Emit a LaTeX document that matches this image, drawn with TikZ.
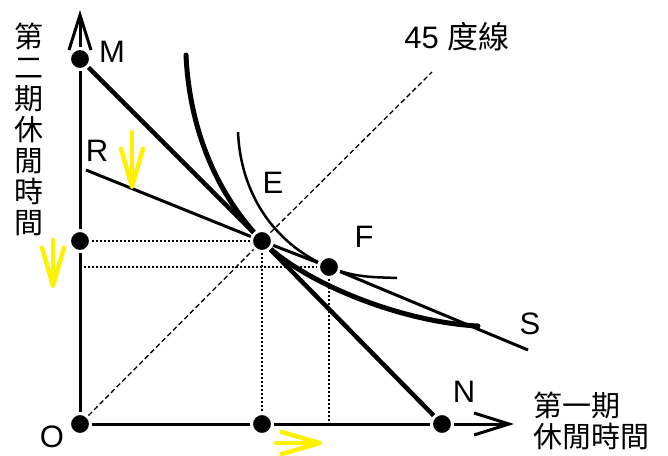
\documentclass[tikz,border=0pt]{standalone}
\usepackage{fontspec}
\setmainfont{Liberation Sans}
\newfontfamily\cjk{Noto Sans CJK TC}
\usetikzlibrary{arrows.meta,positioning}
\tikzset{
  dot/.style={circle, fill=black, draw=white, line width=3pt, inner sep=0pt, minimum size=21pt},
  lbl/.style={inner sep=0pt, font=\fontsize{31}{31}\selectfont},
  zh/.style={inner sep=0pt, font=\cjk\fontsize{29}{31}\selectfont},
  axisln/.style={line width=3pt},
  axarr/.style={line width=3pt, -{Straight Barb[length=35pt,width=22pt]}},
  budget/.style={line width=4.5pt},
  budget2/.style={line width=3pt},
  icurve/.style={line width=5pt, line cap=round},
  icurve2/.style={line width=2.5pt},
  guide/.style={line width=1.3pt, dash pattern=on 2pt off 2pt},
  deg/.style={line width=1.3pt, dash pattern=on 5pt off 3pt},
  shiftarr/.style={yellow, line width=4.5pt, line cap=round, -{Straight Barb[length=38pt,width=22pt,round]}}
}

\begin{document}
\begin{tikzpicture}[x=1pt,y=-1pt]
\useasboundingbox (0,0) rectangle (668,455);
% indifference curves
\draw[icurve] (186,55) .. controls (190,140) and (224,202) .. (262,241)
  .. controls (302,282) and (400,322) .. (478,326);
\draw[icurve2] (238,132) .. controls (241,200) and (280,247) .. (329,267)
  .. controls (355,278) and (375,277) .. (397,278);
% points
\node[dot] (M) at (80,59) {};
\node[dot] (A) at (80,241) {};
\node[dot] (O) at (80,424) {};
\node[dot] (E) at (262,241) {};
\node[dot] (F) at (329,267) {};
\node[dot] (B) at (262,424) {};
\node[dot] (N) at (442,424) {};
\coordinate (ytip) at (80,10);
\coordinate (xtip) at (514,424);
\coordinate (R) at (86,170);
\coordinate (S) at (528,350);
\coordinate (d45) at (432,72);
% axes
\draw[axisln] (O) -- (A);
\draw[axisln] (A) -- (M);
\draw[axarr] (M) -- (ytip);
\draw[axisln] (O) -- (B);
\draw[axisln] (B) -- (N);
\draw[axarr] (N) -- (xtip);
% budget lines
\draw[budget] (M) -- (E);
\draw[budget] (E) -- (N);
\draw[budget2] (R) -- (E);
\draw[budget2] (E) -- (F);
\draw[budget2] (F) -- (S);
% guides
\draw[deg] (O) -- (E);
\draw[deg] (E) -- (d45);
\draw[guide] (A) -- (E);
\draw[guide] (E) -- (B);
\draw[guide] (F -| O) -- (F);
\draw[guide] (F) -- (F |- O);
% shifts
\coordinate (s1a) at (132,132);
\coordinate (s1b) at (132,189);
\coordinate (s2a) at (53,240);
\coordinate (s2b) at (53,288);
\coordinate (s3a) at (276,443);
\coordinate (s3b) at (322,443);
\draw[shiftarr] (s1a) -- (s1b);
\draw[shiftarr] (s2a) -- (s2b);
\draw[shiftarr] (s3a) -- (s3b);
% labels
\node[lbl] (lM) at (112,52) {M};
\node[lbl] (lR) at (97,151) {R};
\node[lbl] (lE) at (273,183) {E};
\node[lbl] (lF) at (364,237) {F};
\node[lbl] (lS) at (530,324) {S};
\node[lbl] (lN) at (464,392) {N};
\node[lbl] (lO) at (52,437) {O};
\node[lbl] (l45) at (457,37) {45 {\cjk 度線}};
\node[zh, align=center] (ylab) at (29,129) {第\\二\\期\\休\\閒\\時\\間};
\node[zh, align=left, anchor=west] (xlab) at (533,421) {第一期\\休閒時間};
\end{tikzpicture}
\end{document}
